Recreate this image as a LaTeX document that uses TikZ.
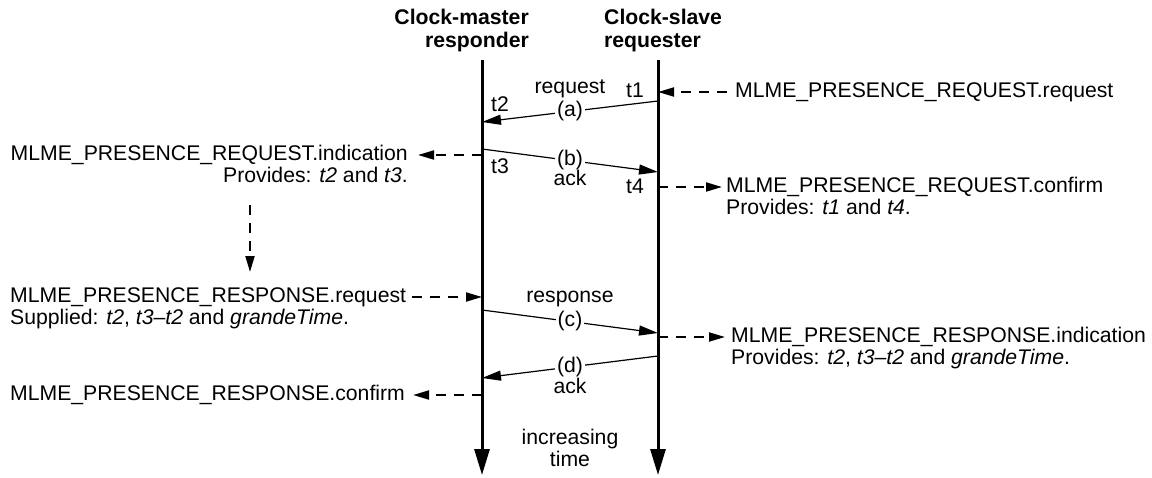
\documentclass[tikz,border=0pt]{standalone}
\usepackage{fontspec}
\setmainfont{Liberation Sans}
\usetikzlibrary{arrows.meta}
\tikzset{
  txt/.style={font=\fontsize{21.2}{22}\selectfont, inner sep=0pt},
  head/.style={txt, font=\fontsize{21.2}{23}\selectfont\bfseries},
  lifeline/.style={line width=3pt, -{Triangle[length=26pt,width=15pt]}},
  msg/.style={line width=1.2pt, -{Triangle[length=19pt,width=10pt]}},
  prim/.style={line width=2pt, dash pattern=on 10pt off 8pt, -{Triangle[length=16pt,width=9pt]}},
  tag/.style={txt, fill=white, inner sep=2pt}
}
\begin{document}
\begin{tikzpicture}[x=1pt, y=-1pt, line join=round]
	\useasboundingbox (0,0) rectangle (1152,477);
	% lifelines
	\node[head, align=right, anchor=east] (mHead) at (529,31) {Clock-master\\responder};
	\node[head, align=left, anchor=west] (sHead) at (604,31) {Clock-slave\\requester};
	\coordinate (mTop) at (482,60);
	\coordinate (mBot) at (482,475);
	\coordinate (sTop) at (658,60);
	\coordinate (sBot) at (658,475);
	\draw[lifeline] (mTop) -- (mBot);
	\draw[lifeline] (sTop) -- (sBot);
	% points on the lifelines
	\coordinate (s1) at (658,101);
	\coordinate (m2) at (482,122);
	\coordinate (m3) at (482,149);
	\coordinate (s4) at (658,172);
	\coordinate (m5) at (482,310);
	\coordinate (s6) at (658,333);
	\coordinate (s7) at (658,356);
	\coordinate (m8) at (482,378);
	% frames
	\draw[msg] (s1) -- (m2) node[tag, midway] (aTag) {(a)};
	\draw[msg] (m3) -- (s4) node[tag, midway] (bTag) {(b)};
	\draw[msg] (m5) -- (s6) node[tag, midway] (cTag) {(c)};
	\draw[msg] (s7) -- (m8) node[tag, midway] (dTag) {(d)};
	\node[txt] (aName) at (570,89) {request};
	\node[txt] (bName) at (570,178) {ack};
	\node[txt] (cName) at (570,299) {response};
	\node[txt] (dName) at (570,386) {ack};
	\node[txt] (t1) at (635,90) {t1};
	\node[txt] (t2) at (500,104) {t2};
	\node[txt] (t3) at (500,166) {t3};
	\node[txt] (t4) at (635,186) {t4};
	\node[txt, align=center] (time) at (570,448) {increasing\\time};
	% primitives
	\node[txt, anchor=west] (reqReq) at (735,92) {MLME\_PRESENCE\_REQUEST.request};
	\node[txt, anchor=east] (reqInd) at (408,155) {MLME\_PRESENCE\_REQUEST.indication};
	\node[txt, anchor=north east] (reqIndP) at ([yshift=-2pt]reqInd.south east) {Provides: \textit{t2} and \textit{t3}.};
	\node[txt, anchor=west] (reqCnf) at (726,187) {MLME\_PRESENCE\_REQUEST.confirm};
	\node[txt, anchor=north west] (reqCnfP) at ([yshift=-2pt]reqCnf.south west) {Provides: \textit{t1} and \textit{t4}.};
	\node[txt, anchor=west] (rspReq) at (10,297) {MLME\_PRESENCE\_RESPONSE.request};
	\node[txt, anchor=north west] (rspReqP) at ([yshift=-2pt]rspReq.south west) {Supplied: \textit{t2}, \textit{t3--t2} and \textit{grandeTime}.};
	\node[txt, anchor=west] (rspInd) at (731,337) {MLME\_PRESENCE\_RESPONSE.indication};
	\node[txt, anchor=north west] (rspIndP) at ([yshift=-2pt]rspInd.south west) {Provides: \textit{t2}, \textit{t3--t2} and \textit{grandeTime}.};
	\node[txt, anchor=west] (rspCnf) at (10,395) {MLME\_PRESENCE\_RESPONSE.confirm};
	\coordinate (vTop) at (250,205);
	\draw[prim] ([xshift=-8pt]reqReq.west) -- (reqReq.west -| sTop);
	\draw[prim] (reqInd.east -| mTop) -- ([xshift=10pt]reqInd.east);
	\draw[prim] (reqCnf.west -| sTop) -- ([xshift=-4pt]reqCnf.west);
	\draw[prim] (vTop) -- (vTop |- 0,272);
	\draw[prim] ([xshift=6pt]rspReq.east) -- (rspReq.east -| mTop);
	\draw[prim] (rspInd.west -| sTop) -- ([xshift=-6pt]rspInd.west);
	\draw[prim] (rspCnf.east -| mTop) -- ([xshift=8pt]rspCnf.east);
\end{tikzpicture}
\end{document}
